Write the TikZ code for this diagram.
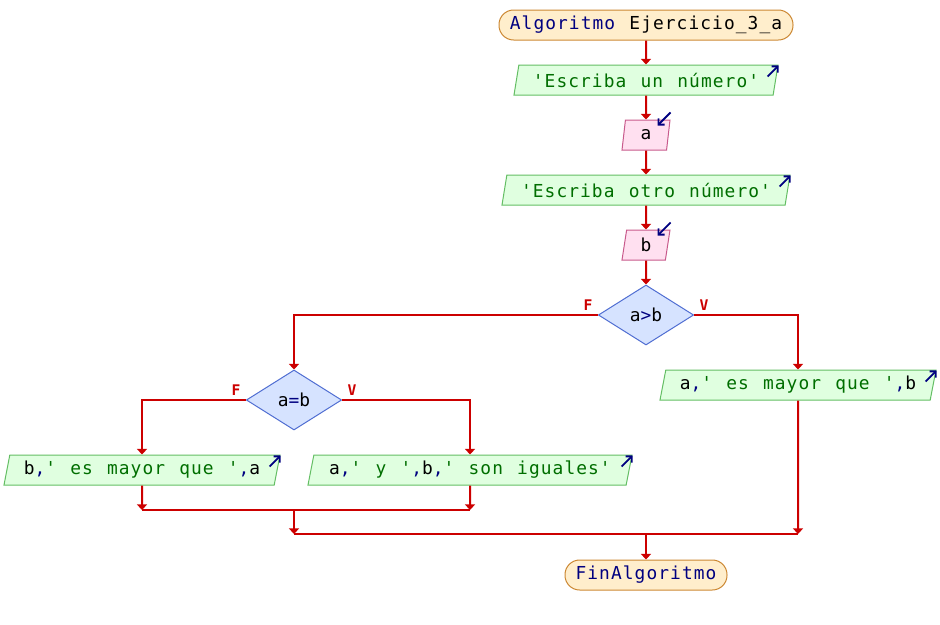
\documentclass[tikz,border=0pt]{standalone}
\usepackage{fontspec}
\setmonofont{DejaVu Sans Mono}[LetterSpace=6,WordSpace={1.2,0,0}]
\usetikzlibrary{shapes.geometric,arrows.meta}
\definecolor{kw}{RGB}{0,0,128}
\definecolor{str}{RGB}{0,110,0}
\definecolor{flowred}{RGB}{204,0,0}
\definecolor{termfill}{RGB}{255,238,204}
\definecolor{termdraw}{RGB}{204,136,51}
\definecolor{outfill}{RGB}{224,255,224}
\definecolor{outdraw}{RGB}{100,190,100}
\definecolor{infill}{RGB}{255,224,240}
\definecolor{indraw}{RGB}{200,90,140}
\definecolor{decfill}{RGB}{214,227,255}
\definecolor{decdraw}{RGB}{80,110,210}
\tikzset{
  x=0.75pt, y=-0.75pt,
  every node/.style={font=\ttfamily\fontsize{13.4}{15}\selectfont, inner sep=0pt, text=black},
  term/.style={rectangle, rounded corners=11pt, draw=termdraw, fill=termfill, line width=0.75pt, minimum height=22.5pt},
  outbox/.style={trapezium, trapezium left angle=71.5, trapezium right angle=108.5, trapezium stretches body, draw=outdraw, fill=outfill, line width=0.75pt, minimum height=22.5pt},
  inbox/.style={trapezium, trapezium left angle=71.5, trapezium right angle=108.5, trapezium stretches body, draw=indraw, fill=infill, line width=0.75pt, minimum height=22.5pt, minimum width=36pt},
  decision/.style={diamond, draw=decdraw, fill=decfill, line width=0.75pt, minimum width=71.5pt, minimum height=45pt},
  flow/.style={draw=flowred, line width=1.5pt, -{Triangle[width=7.5pt,length=4.2pt]}},
  flowline/.style={draw=flowred, line width=1.5pt},
  lab/.style={font=\ttfamily\bfseries\fontsize{11}{12}\selectfont, text=flowred},
  icon/.style={draw=kw, line width=1.4pt, -{Straight Barb[length=3.2pt,width=6.5pt]}},
}
\begin{document}
\begin{tikzpicture}
\useasboundingbox (0,0) rectangle (940,625);
% nodes
\node[term, minimum width=220.5pt] (start) at (646,25) {{\color{kw}Algoritmo} Ejercicio\_3\_a};
\node[outbox, minimum width=198pt] (o1) at (646,80) {{\color{str}'Escriba un número'}};
\node[inbox] (i1) at (646,135) {a};
\node[outbox, minimum width=216pt] (o2) at (646,190) {{\color{str}'Escriba otro número'}};
\node[inbox] (i2) at (646,245) {b};
\node[decision] (d1) at (646,315) {a{\color{kw}>}b};
\node[outbox, minimum width=207pt] (o3) at (798,385) {a{\color{kw},}{\color{str}' es mayor que '}{\color{kw},}b};
\node[decision] (d2) at (294,400) {a{\color{kw}=}b};
\node[outbox, minimum width=207pt] (o4) at (142,470) {b{\color{kw},}{\color{str}' es mayor que '}{\color{kw},}a};
\node[outbox, minimum width=243pt] (o5) at (470,470) {a{\color{kw},}{\color{str}' y '}{\color{kw},}b{\color{kw},}{\color{str}' son iguales'}};
\node[term, minimum width=121.5pt] (end) at (646,575) {{\color{kw}FinAlgoritmo}};
% branch labels
\node[lab] (f1) at (588,305) {F};
\node[lab] (v1) at (704,305) {V};
\node[lab] (f2) at (236,390) {F};
\node[lab] (v2) at (352,390) {V};
% junction coordinates
\coordinate (m1) at (142,510);
\coordinate (m2) at (470,510);
\coordinate (j1) at (294,510);
\coordinate (j2) at (294,534);
\coordinate (j3) at (798,534);
\coordinate (j4) at (646,534);
% connectors
\draw[flow] (start) -- (o1);
\draw[flow] (o1) -- (i1);
\draw[flow] (i1) -- (o2);
\draw[flow] (o2) -- (i2);
\draw[flow] (i2) -- (d1);
\draw[flow] (d1.east) -| (o3.north);
\draw[flow] (d1.west) -| (d2.north);
\draw[flow] (d2.west) -| (o4.north);
\draw[flow] (d2.east) -| (o5.north);
\draw[flow] (o4.south) -- (m1);
\draw[flow] (o5.south) -- (m2);
\draw[flowline] (m1) -- (m2);
\draw[flow] (j1) -- (j2);
\draw[flow] (o3.south) -- (j3);
\draw[flowline] (j2) -- (j3);
\draw[flow] (j4) -- (end.north);
% io icons
\draw[icon] ([shift={(-11,12)}]o1.top right corner) -- ++(11,-11);
\draw[icon] ([shift={(-11,12)}]o2.top right corner) -- ++(11,-11);
\draw[icon] ([shift={(-11,12)}]o3.top right corner) -- ++(11,-11);
\draw[icon] ([shift={(-11,12)}]o4.top right corner) -- ++(11,-11);
\draw[icon] ([shift={(-11,12)}]o5.top right corner) -- ++(11,-11);
\draw[icon] ([shift={(0,-7)}]i1.top right corner) -- ++(-13,13);
\draw[icon] ([shift={(0,-7)}]i2.top right corner) -- ++(-13,13);
\end{tikzpicture}
\end{document}
